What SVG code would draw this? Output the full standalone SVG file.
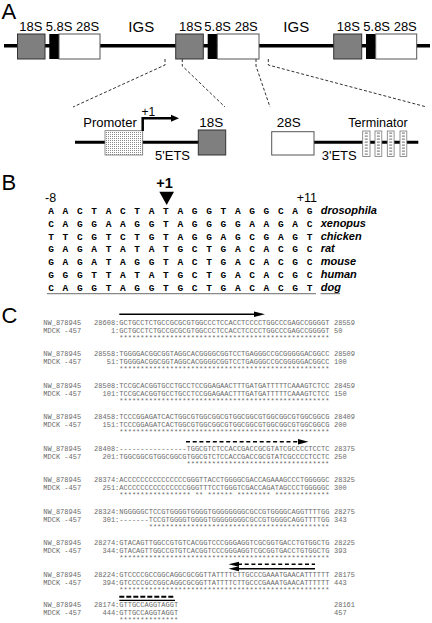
<svg xmlns="http://www.w3.org/2000/svg" width="432" height="623" viewBox="0 0 432 623">
<defs>
<pattern id="stipple" width="2" height="2" patternUnits="userSpaceOnUse"><rect width="2" height="2" fill="#fff"/><rect width="1" height="1" fill="#8a8a8a"/></pattern>
</defs>
<style>
.s{font-family:"Liberation Sans",Arial,sans-serif;fill:#000}
.pl{font-size:22px}
.u{font-size:13px}
.igs{font-size:15px}
.seqB{font-family:"Liberation Mono","Courier New",monospace;font-weight:bold;font-size:9.5px;letter-spacing:8.66px;fill:#000}
.sp{font-family:"Liberation Sans",Arial,sans-serif;font-weight:bold;font-style:italic;font-size:11px;fill:#000}
.aln{font-family:"Liberation Mono","Courier New",monospace;font-size:7px;fill:#6a6a6a;white-space:pre}
.n{text-anchor:end}
.gbox{fill:#7f7f7f;stroke:#333;stroke-width:1}
.wbox{fill:#fff;stroke:#555;stroke-width:1}
.bbox{fill:#000}
.dl{stroke:#333;stroke-width:1;stroke-dasharray:3 2;fill:none}
.thick{stroke:#000;stroke-width:3.5;fill:none}
.thin{stroke:#000;stroke-width:3;fill:none}
.term{fill:#fff;stroke:#777;stroke-width:0.8}
.termi{stroke:#888;stroke-width:3;stroke-dasharray:1.3 1.7;fill:none}
</style>

<!-- Panel labels -->
<text class="s pl" x="1.5" y="18.5">A</text>
<text class="s pl" x="1.5" y="190">B</text>
<text class="s pl" x="1.5" y="323">C</text>

<!-- Panel A top -->
<g id="backbone"><line class="thick" x1="4" y1="45.7" x2="430" y2="45.7"/></g>
<g id="unit1">
<rect class="gbox" x="17.5" y="34" width="27.5" height="25"/>
<rect class="bbox" x="49.3" y="34" width="9.7" height="25"/>
<rect class="wbox" x="59" y="34" width="41" height="25"/>
<text class="s u" x="19.3" y="30.7">18S</text>
<text class="s u" x="45.7" y="30.7">5.8S 28S</text>
</g>
<g id="igs1"><text class="s igs" x="128.3" y="32.3">IGS</text></g>
<g id="unit2">
<rect class="gbox" x="175.7" y="34" width="27.6" height="25"/>
<rect class="bbox" x="207.7" y="34" width="9.6" height="25"/>
<rect class="wbox" x="217.3" y="34" width="41.7" height="25"/>
<text class="s u" x="179" y="30.7">18S</text>
<text class="s u" x="204.3" y="30.7">5.8S 28S</text>
</g>
<g id="igs2"><text class="s igs" x="283.3" y="32.3">IGS</text></g>
<g id="unit3">
<rect class="gbox" x="333.7" y="34" width="28" height="25"/>
<rect class="bbox" x="366" y="34" width="9.7" height="25"/>
<rect class="wbox" x="375.7" y="34" width="41" height="25"/>
<text class="s u" x="336.7" y="30.7">18S</text>
<text class="s u" x="363.3" y="30.7">5.8S 28S</text>
</g>

<!-- Panel A lower: promoter region -->
<g id="promoter-region">
<line class="thin" x1="75" y1="142.3" x2="199" y2="142.3"/>
<rect x="105" y="130.7" width="37.7" height="24.3" fill="url(#stipple)" stroke="#777" stroke-width="0.8"/>
<rect class="gbox" x="198.3" y="130" width="27.4" height="25"/>
<text class="s" font-size="13" x="83.3" y="126.7">Promoter</text>
<text class="s" font-size="13.5" x="199.3" y="126.7">18S</text>
<text class="s" font-size="13" x="155" y="159.5">5'ETS</text>
<text class="s" font-size="12" x="141.5" y="116.3">+1</text>
</g>
<g id="terminator-region">
<line class="thin" x1="314" y1="142.3" x2="418.3" y2="142.3"/>
<rect class="wbox" x="271.7" y="131.7" width="42.3" height="23.3"/>
<rect class="term" x="362.7" y="131" width="7.3" height="25.5"/>
<rect class="term" x="375" y="131" width="6.8" height="25.5"/>
<rect class="term" x="387.3" y="131" width="6.8" height="25.5"/>
<rect class="term" x="400" y="131" width="6.8" height="25.5"/>
<line class="termi" x1="366.3" y1="132.5" x2="366.3" y2="155.5"/>
<line class="termi" x1="378.4" y1="132.5" x2="378.4" y2="155.5"/>
<line class="termi" x1="390.7" y1="132.5" x2="390.7" y2="155.5"/>
<line class="termi" x1="403.4" y1="132.5" x2="403.4" y2="155.5"/>
<text class="s" font-size="13.5" x="276.7" y="126.7">28S</text>
<text class="s" font-size="12.6" x="348.3" y="126.7">Terminator</text>
<text class="s" font-size="13" x="321.7" y="159.5">3'ETS</text>
</g>

<g id="connectors">
<polyline class="dl" points="165,59 165,65 73,107"/>
<polyline class="dl" points="182.3,59 182.3,66 225,107"/>
<polyline class="dl" points="256,59 256,66 270,107"/>
<polyline class="dl" points="268.3,59 268.3,65 426.7,107"/>
<polyline points="142.7,131 142.7,118.3 172,118.3" fill="none" stroke="#000" stroke-width="2.5"/>
<polygon points="171,114.8 179,118.3 171,121.8" fill="#000"/>
<polygon points="159.3,191.7 174,191.7 166.7,205" fill="#000"/>
<!-- panel C arrows -->
<line x1="119.3" y1="314.3" x2="256" y2="314.3" stroke="#000" stroke-width="1.5"/>
<polygon points="254,311.6 265,314.3 254,317" fill="#000"/>
<line x1="186" y1="441.7" x2="300" y2="441.7" stroke="#000" stroke-width="1.5" stroke-dasharray="4 2.7"/>
<polygon points="298,439 308.5,441.7 298,444.4" fill="#000"/>
<line x1="238" y1="564.3" x2="315" y2="564.3" stroke="#000" stroke-width="1.5" stroke-dasharray="4 2.7"/>
<polygon points="228.5,564.3 239,561.8 239,566.8" fill="#000"/>
<line x1="238" y1="568.7" x2="315" y2="568.7" stroke="#000" stroke-width="1.5"/>
<polygon points="228.5,568.7 239,566.2 239,571.2" fill="#000"/>
<line x1="119.3" y1="596.7" x2="175" y2="596.7" stroke="#000" stroke-width="2" stroke-dasharray="5 2"/>
<line x1="119.3" y1="600.3" x2="175" y2="600.3" stroke="#000" stroke-width="1.3"/>
</g>

<!-- Panel B -->
<g id="panelB-marks">
<text class="s" font-size="14.5" font-weight="bold" x="156.2" y="188.3">+1</text>
<text class="s" font-size="12.5" x="45" y="201.7">-8</text>
<text class="s" font-size="12.5" x="296.7" y="201.7">+11</text>
</g>
<g id="panelB-seqs">
<text class="seqB" x="48.2" y="214.3">AACTACTATAGGTAGGCAG</text>
<text class="seqB" x="48.2" y="227">CAGGAAGGTAGGGGAAGAC</text>
<text class="seqB" x="48.2" y="239.7">TTCGTCTGTAGGAGCGAGT</text>
<text class="seqB" x="48.2" y="252.4">GAGATATATGCTGACACGC</text>
<text class="seqB" x="48.2" y="265.1">GAGATAGGTACTGACACGC</text>
<text class="seqB" x="48.2" y="277.8">GGGTTATATGCTGACACGC</text>
<text class="seqB" x="48.2" y="290.5">CAGGTAGGTGCTGACACGT</text>
<line x1="47" y1="293.6" x2="316" y2="293.6" stroke="#888" stroke-width="1.3"/>
<line x1="320.5" y1="293.6" x2="340" y2="293.6" stroke="#888" stroke-width="1.3"/>
<text class="sp" x="320.7" y="214.3">drosophila</text>
<text class="sp" x="320.7" y="227">xenopus</text>
<text class="sp" x="320.7" y="239.7">chicken</text>
<text class="sp" x="320.7" y="252.4">rat</text>
<text class="sp" x="320.7" y="265.1">mouse</text>
<text class="sp" x="320.7" y="277.8">human</text>
<text class="sp" x="320.7" y="290.5">dog</text>
</g>

<!-- Panel C alignment -->
<g id="alignment" class="aln">
<g id="blk1">
<text x="43.3" y="324.6">NW_878945</text><text class="n" x="119.3" y="324.6">28608:</text><text x="119.3" y="324.6">GCTGCCTCTGCCGCGCGTGGCCCTCCACCTCCCCTGGCCCGAGCCGGGGT</text><text x="334" y="324.6">28559</text>
<text x="43.3" y="332.6">MDCK -457</text><text class="n" x="119.3" y="332.6">1:</text><text x="119.3" y="332.6">GCTGCCTCTGCCGCGCGTGGCCCTCCACCTCCCCTGGCCCGAGCCGGGGT</text><text x="334" y="332.6">50</text>
<text x="119.3" y="339.9">**************************************************</text>
</g>
<g id="blk2">
<text x="43.3" y="356.1">NW_878945</text><text class="n" x="119.3" y="356.1">28558:</text><text x="119.3" y="356.1">TGGGGACGGCGGTAGGCACGGGGCGGTCCTGAGGGCCGCGGGGGACGGCC</text><text x="334" y="356.1">28509</text>
<text x="43.3" y="364.1">MDCK -457</text><text class="n" x="119.3" y="364.1">51:</text><text x="119.3" y="364.1">TGGGGACGGCGGTAGGCACGGGGCGGTCCTGAGGGCCGCGGGGGACGGCC</text><text x="334" y="364.1">100</text>
<text x="119.3" y="371.4">**************************************************</text>
</g>
<g id="blk3">
<text x="43.3" y="387.6">NW_878945</text><text class="n" x="119.3" y="387.6">28508:</text><text x="119.3" y="387.6">TCCGCACGGTGCCTGCCTCCGGAGAACTTTGATGATTTTTCAAAGTCTCC</text><text x="334" y="387.6">28459</text>
<text x="43.3" y="395.6">MDCK -457</text><text class="n" x="119.3" y="395.6">101:</text><text x="119.3" y="395.6">TCCGCACGGTGCCTGCCTCCGGAGAACTTTGATGATTTTTCAAAGTCTCC</text><text x="334" y="395.6">150</text>
<text x="119.3" y="402.9">**************************************************</text>
</g>
<g id="blk4">
<text x="43.3" y="419.1">NW_878945</text><text class="n" x="119.3" y="419.1">28458:</text><text x="119.3" y="419.1">TCCCGGAGATCACTGGCGTGGCGGCGTGGCGGCGTGGCGGCGTGGCGGCG</text><text x="334" y="419.1">28409</text>
<text x="43.3" y="427.1">MDCK -457</text><text class="n" x="119.3" y="427.1">151:</text><text x="119.3" y="427.1">TCCCGGAGATCACTGGCGTGGCGGCGTGGCGGCGTGGCGGCGTGGCGGCG</text><text x="334" y="427.1">200</text>
<text x="119.3" y="434.4">**************************************************</text>
</g>
<g id="blk5">
<text x="43.3" y="450.6">NW_878945</text><text class="n" x="119.3" y="450.6">28408:</text><text x="119.3" y="450.6">----------------TGGCGTCTCCACCGACCGCGTATCGCCCCTCCTC</text><text x="334" y="450.6">28375</text>
<text x="43.3" y="458.6">MDCK -457</text><text class="n" x="119.3" y="458.6">201:</text><text x="119.3" y="458.6">TGGCGGCGTGGCGGCGTGGCGTCTCCACCGACCGCGTATCGCCCCTCCTC</text><text x="334" y="458.6">250</text>
<text x="186.5" y="465.9">**********************************</text>
</g>
<g id="blk6">
<text x="43.3" y="482.1">NW_878945</text><text class="n" x="119.3" y="482.1">28374:</text><text x="119.3" y="482.1">ACCCCCCCCCCCCCCCGGGTTACCTGGGGCGACCAGAAAGCCCTGGGGGC</text><text x="334" y="482.1">28325</text>
<text x="43.3" y="490.1">MDCK -457</text><text class="n" x="119.3" y="490.1">251:</text><text x="119.3" y="490.1">ACCCCCCCCCCCCCCCGGGTTTCCTGGGTCGACCAGATAGCCCTGGGGGC</text><text x="334" y="490.1">300</text>
<text x="119.3" y="497.4" xml:space="preserve">***************** ** ****** ******** *************</text>
</g>
<g id="blk7">
<text x="43.3" y="513.6">NW_878945</text><text class="n" x="119.3" y="513.6">28324:</text><text x="119.3" y="513.6">NGGGGGCTCCGTGGGGTGGGGTGGGGGGGGCGCCGTGGGGCAGGTTTTGG</text><text x="334" y="513.6">28275</text>
<text x="43.3" y="521.6">MDCK -457</text><text class="n" x="119.3" y="521.6">301:</text><text x="119.3" y="521.6">-------TCCGTGGGGTGGGGTGGGGGGGGCGCCGTGGGGCAGGTTTTGG</text><text x="334" y="521.6">343</text>
<text x="148.7" y="528.9">*******************************************</text>
</g>
<g id="blk8">
<text x="43.3" y="545.1">NW_878945</text><text class="n" x="119.3" y="545.1">28274:</text><text x="119.3" y="545.1">GTACAGTTGGCCGTGTCACGGTCCCGGGAGGTCGCGGTGACCTGTGGCTG</text><text x="334" y="545.1">28225</text>
<text x="43.3" y="553.1">MDCK -457</text><text class="n" x="119.3" y="553.1">344:</text><text x="119.3" y="553.1">GTACAGTTGGCCGTGTCACGGTCCCGGGAGGTCGCGGTGACCTGTGGCTG</text><text x="334" y="553.1">393</text>
<text x="119.3" y="560.4">**************************************************</text>
</g>
<g id="blk9">
<text x="43.3" y="576.6">NW_878945</text><text class="n" x="119.3" y="576.6">28224:</text><text x="119.3" y="576.6">GTCCCCGCCGGCAGGCGCGGTTATTTTCTTGCCCGAAATGAACATTTTTT</text><text x="334" y="576.6">28175</text>
<text x="43.3" y="584.6">MDCK -457</text><text class="n" x="119.3" y="584.6">394:</text><text x="119.3" y="584.6">GTCCCCGCCGGCAGGCGCGGTTATTTTCTTGCCCGAAATGAACATTTTTT</text><text x="334" y="584.6">443</text>
<text x="119.3" y="591.9">**************************************************</text>
</g>
<g id="blk10">
<text x="43.3" y="607.2">NW_878945</text><text class="n" x="119.3" y="607.2">28174:</text><text x="119.3" y="607.2">GTTGCCAGGTAGGT</text><text x="334" y="607.2">28161</text>
<text x="43.3" y="614.7">MDCK -457</text><text class="n" x="119.3" y="614.7">444:</text><text x="119.3" y="614.7">GTTGCCAGGTAGGT</text><text x="334" y="614.7">457</text>
<text x="119.3" y="622.1">**************</text>
</g>
</g>
</svg>
